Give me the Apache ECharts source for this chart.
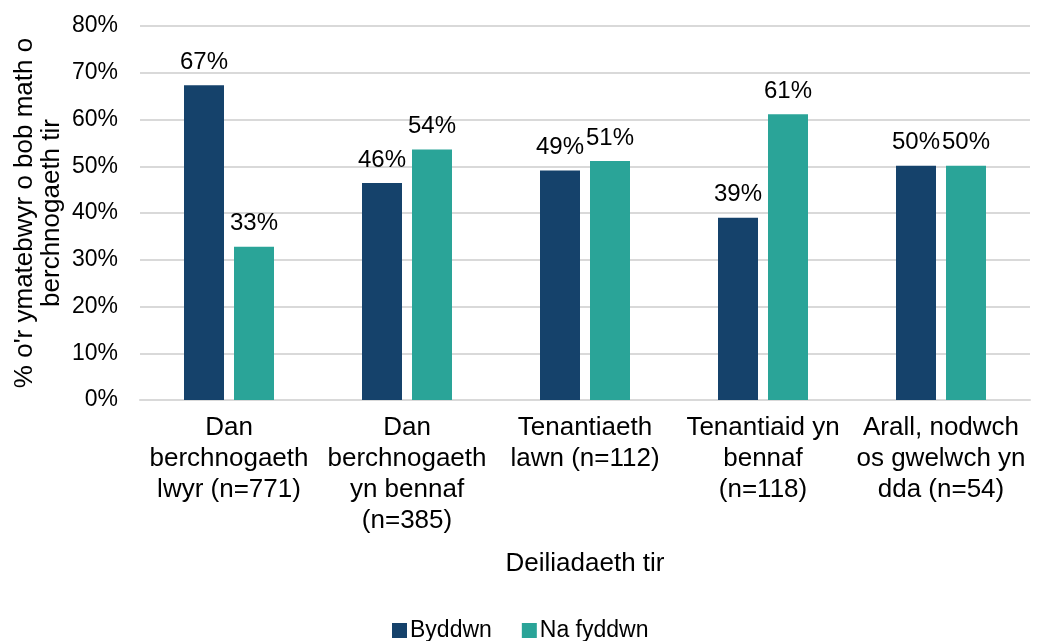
<!DOCTYPE html>
<html>
<head>
<meta charset="utf-8">
<script src="https://cdn.jsdelivr.net/npm/echarts@6/dist/echarts.min.js"></script>
<style>
  html, body { margin: 0; padding: 0; background: #fff; }
  #chart { width: 1038px; height: 641px; }
</style>
</head>
<body>
<div id="chart"></div>
<script>
var categories = [
    'Dan\nberchnogaeth\nlwyr (n=771)',
    'Dan\nberchnogaeth\nyn bennaf\n(n=385)',
    'Tenantiaeth\nlawn (n=112)',
    'Tenantiaid yn\nbennaf\n(n=118)',
    'Arall, nodwch\nos gwelwch yn\ndda (n=54)'
];
var byddwn = [67.3, 46.4, 49.1, 39.0, 50.1];
var naFyddwn = [32.8, 53.6, 51.1, 61.1, 50.1];
var yTicks = [0, 10, 20, 30, 40, 50, 60, 70, 80];

var font = 'Liberation Sans, Arial, sans-serif';
var chart = echarts.init(document.getElementById('chart'));

var labelOpt = {
    show: true,
    position: 'top',
    distance: 11,
    color: '#000',
    fontSize: 24,
    fontFamily: font,
    formatter: function(p) {
        return Math.round(p.value) + '%';
    }
};

option = {
    animation: false,
    textStyle: { fontFamily: font, color: '#000' },
    grid: {
        left: 140,
        right: 8,
        top: 26,
        bottom: 241,
        containLabel: false,
        outerBoundsMode: 'none'
    },
    legend: {
        top: 619,
        left: 392,
        padding: 0,
        itemWidth: 15,
        itemHeight: 15,
        itemGap: 30,
        icon: 'rect',
        textStyle: { fontSize: 23, fontFamily: font, color: '#000', padding: [0, 0, 0, -2] },
        data: ['Byddwn', 'Na fyddwn']
    },
    xAxis: {
        type: 'category',
        data: categories,
        name: 'Deiliadaeth tir',
        nameLocation: 'middle',
        nameGap: 151,
        nameMoveOverlap: false,
        nameTextStyle: { fontSize: 26, fontFamily: font, color: '#000' },
        axisLine: { lineStyle: { color: '#d9d9d9', width: 2 } },
        axisTick: { show: false },
        axisLabel: {
            fontSize: 26,
            lineHeight: 31,
            margin: 12,
            color: '#000',
            fontFamily: font,
            interval: 0
        }
    },
    yAxis: {
        type: 'value',
        min: yTicks[0],
        max: yTicks[yTicks.length - 1],
        interval: 10,
        name: "% o'r ymatebwyr o bob math o\nberchnogaeth tir",
        nameLocation: 'middle',
        nameGap: 75,
        nameMoveOverlap: false,
        nameTextStyle: { fontSize: 26, lineHeight: 27, fontFamily: font, color: '#000' },
        axisLine: { show: false },
        axisTick: { show: false },
        splitLine: { lineStyle: { color: '#d9d9d9', width: 2 } },
        axisLabel: {
            fontSize: 23,
            margin: 22,
            color: '#000',
            fontFamily: font,
            formatter: '{value}%'
        }
    },
    series: [{
            name: 'Byddwn',
            type: 'bar',
            barWidth: 40,
            barGap: '25%',
            itemStyle: { color: '#15426b' },
            label: labelOpt,
            data: byddwn
        },
        {
            name: 'Na fyddwn',
            type: 'bar',
            barWidth: 40,
            barGap: '25%',
            itemStyle: { color: '#2aa498' },
            label: labelOpt,
            data: naFyddwn
        }
    ]
};
chart.setOption(option);
</script>
</body>
</html>
